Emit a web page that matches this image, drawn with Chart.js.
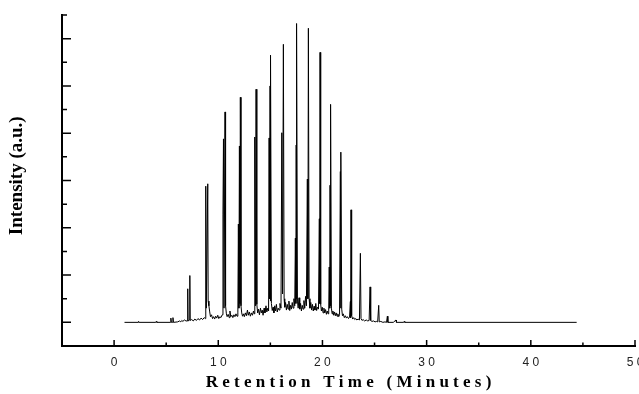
<!DOCTYPE html>
<html>
<head>
<meta charset="utf-8">
<script src="https://cdn.jsdelivr.net/npm/chart.js@4"></script>
<style>
  html, body { margin: 0; padding: 0; background: #fff; overflow: hidden; }
  #wrap { width: 639px; height: 394px; }
</style>
</head>
<body>
<div id="wrap"><canvas id="chromChart"></canvas></div>
<script>
// retention time (min) and intensity (a.u.)
const times = [
  1.0, 2.3, 2.35, 2.4, 4.0, 4.05, 4.1, 5.4, 5.45, 5.5, 5.6, 5.65, 5.7, 6.1, 6.3, 6.4, 6.5, 6.6, 6.75, 6.9,
  7.05, 7.07, 7.1, 7.25, 7.27, 7.3, 7.45, 7.6, 7.75, 7.9, 8.05, 8.2, 8.35, 8.5, 8.65, 8.75,
  8.8, 8.85, 8.99, 9.03, 9.1, 9.18, 9.25, 9.35, 9.45, 9.55, 9.65, 9.75, 9.85, 9.95, 10.05, 10.15, 10.25, 10.38,
  10.45, 10.5, 10.55, 10.65, 10.7, 10.78, 10.85, 10.95, 11.05, 11.12, 11.2, 11.3, 11.4, 11.5, 11.6, 11.7, 11.8, 11.88,
  11.93, 11.98, 12.03, 12.08, 12.12, 12.18, 12.25, 12.33, 12.42, 12.5, 12.6, 12.7, 12.8, 12.88, 12.98, 13.08, 13.18, 13.28, 13.38, 13.45,
  13.49, 13.52, 13.57, 13.63, 13.7, 13.78, 13.86, 13.95, 14.05, 14.13, 14.22, 14.3, 14.4, 14.48, 14.58, 14.66, 14.75, 14.83,
  14.88, 14.93, 14.97, 15.0, 15.03, 15.1, 15.18, 15.26, 15.34, 15.42, 15.5, 15.58, 15.66, 15.75, 15.84, 15.92, 16.02,
  16.1, 16.17, 16.25, 16.32, 16.38, 16.46, 16.54, 16.62, 16.7, 16.78, 16.86, 16.94, 17.02, 17.1, 17.18, 17.26, 17.34,
  17.4, 17.45, 17.48, 17.5, 17.53, 17.6, 17.67, 17.75, 17.82, 17.9, 17.98, 18.06, 18.14, 18.22, 18.3, 18.38, 18.46,
  18.55, 18.6, 18.65, 18.72, 18.8, 18.88, 18.96, 19.04, 19.12, 19.2, 19.28, 19.36, 19.44, 19.52, 19.62,
  19.7, 19.73, 19.77, 19.83, 19.9, 19.98, 20.06, 20.14, 20.22, 20.3, 20.38, 20.46, 20.54, 20.6,
  20.65, 20.7, 20.73, 20.76, 20.8, 20.86, 20.93, 21.0, 21.08, 21.16, 21.24, 21.32, 21.4, 21.48, 21.56, 21.64,
  21.72, 21.75, 21.78, 21.85, 21.92, 22.0, 22.1, 22.2, 22.3, 22.4, 22.5, 22.6,
  22.68, 22.7, 22.74, 22.8, 22.9, 23.0, 23.1, 23.2, 23.3, 23.42, 23.55,
  23.64, 23.7, 23.8, 23.9, 24.05, 24.2, 24.35, 24.48,
  24.57, 24.63, 24.75, 24.9, 25.05, 25.2, 25.3,
  25.4, 25.45, 25.6, 25.8, 26.0, 26.15,
  26.23, 26.28, 26.8,
  27.06, 27.1, 27.8, 27.85, 27.9, 44.4
];
const intensity = [
  0, 0, 0.02, 0, 0, 0.02, 0, 0, 0.09, 0, 0, 0.1, 0, 0.01, 0.03, 0.01, 0.04, 0.02, 0.05, 0.03,
  0.03, 0.71, 0.03, 0.05, 0.99, 0.04, 0.06, 0.03, 0.07, 0.04, 0.08, 0.05, 0.09, 0.06, 0.1, 0.08,
  2.88, 0.3, 2.93, 0.45, 0.35, 0.22, 0.12, 0.16, 0.08, 0.12, 0.07, 0.13, 0.09, 0.15, 0.08, 0.12, 0.1, 0.16,
  2.29, 3.88, 0.3, 4.45, 0.35, 0.18, 0.12, 0.17, 0.1, 0.24, 0.12, 0.15, 0.1, 0.16, 0.12, 0.18, 0.13, 0.2,
  2.08, 0.3, 3.73, 0.4, 4.76, 0.35, 0.2, 0.13, 0.18, 0.12, 0.2, 0.14, 0.26, 0.15, 0.22, 0.13, 0.2, 0.15, 0.24, 0.18,
  2.5, 3.92, 0.35, 4.93, 0.38, 0.2, 0.28, 0.16, 0.3, 0.2, 0.26, 0.15, 0.3, 0.2, 0.35, 0.22, 0.3, 0.24,
  3.9, 0.5, 5.0, 0.45, 5.65, 0.4, 0.25, 0.32, 0.2, 0.35, 0.24, 0.38, 0.22, 0.3, 0.26, 0.4, 0.3,
  4.01, 0.6, 5.88, 0.5, 0.32, 0.42, 0.26, 0.38, 0.28, 0.45, 0.25, 0.36, 0.28, 0.42, 0.3, 0.5, 0.35,
  1.78, 0.4, 3.75, 0.5, 6.32, 0.45, 0.3, 0.52, 0.28, 0.4, 0.24, 0.36, 0.28, 0.46, 0.3, 0.55, 0.35,
  3.03, 0.5, 6.22, 0.5, 0.3, 0.42, 0.26, 0.38, 0.24, 0.34, 0.26, 0.4, 0.25, 0.32, 0.28,
  2.19, 0.4, 5.71, 0.38, 0.24, 0.32, 0.2, 0.3, 0.2, 0.27, 0.17, 0.24, 0.18, 0.26,
  1.17, 0.3, 2.9, 0.35, 4.61, 0.3, 0.18, 0.24, 0.15, 0.22, 0.14, 0.2, 0.13, 0.18, 0.12, 0.16,
  3.19, 0.3, 3.6, 0.28, 0.14, 0.18, 0.1, 0.14, 0.09, 0.12, 0.08, 0.11,
  0.44, 0.1, 2.38, 0.14, 0.07, 0.1, 0.06, 0.08, 0.05, 0.07, 0.05,
  1.46, 0.08, 0.04, 0.06, 0.03, 0.05, 0.03, 0.04,
  0.75, 0.04, 0.02, 0.03, 0.01, 0.02, 0.01,
  0.36, 0.01, 0.02, 0, 0.01, 0,
  0.13, 0, 0,
  0.05, 0, 0, 0.02, 0, 0
];
const xTickLabels = [0, 10, 20, 30, 40, 50];
const xMinorTicks = [5, 15, 25, 35, 45];
const yMajorTicks = [0, 1, 2, 3, 4, 5, 6];
const yMinorTicks = [-0.5, 0.5, 1.5, 2.5, 3.5, 4.5, 5.5, 6.5];

// ticks in the original point inwards, so draw them by hand on the scales
const inwardTicks = {
  id: 'inwardTicks',
  afterDraw(chart) {
    const { ctx, scales: { x, y } } = chart;
    const base = y.bottom, left = x.left;
    ctx.save();
    ctx.strokeStyle = '#000';
    ctx.lineWidth = 1.5;
    ctx.beginPath();
    xTickLabels.forEach(v => { const p = x.getPixelForValue(v); ctx.moveTo(p, base); ctx.lineTo(p, base - 6); });
    xMinorTicks.forEach(v => { const p = x.getPixelForValue(v); ctx.moveTo(p, base); ctx.lineTo(p, base - 3.5); });
    yMajorTicks.forEach(v => { const p = y.getPixelForValue(v); ctx.moveTo(left, p); ctx.lineTo(left + 9, p); });
    yMinorTicks.forEach(v => { const p = y.getPixelForValue(v); ctx.moveTo(left, p); ctx.lineTo(left + 5, p); });
    ctx.stroke();
    ctx.restore();
  }
};

const ctx = document.getElementById('chromChart');
new Chart(ctx, {
  type: 'line',
  data: {
    datasets: [{
      data: times.map((t, i) => ({ x: t, y: intensity[i] })),
      borderColor: '#000',
      borderWidth: 1,
      pointRadius: 0,
      tension: 0,
      fill: false
    }]
  },
  options: {
    responsive: true,
    maintainAspectRatio: false,
    animation: false,
    layout: { padding: { top: 15, right: 4, left: 0, bottom: 0 } },
    plugins: {
      legend: { display: false },
      tooltip: { enabled: false }
    },
    scales: {
      x: {
        type: 'linear',
        min: -5,
        max: 50,
        afterBuildTicks: (scale) => { scale.ticks = xTickLabels.map(v => ({ value: v })); },
        afterFit: (scale) => { scale.height = 48; scale.paddingRight = 0; scale.paddingLeft = 0; },
        grid: { display: false },
        border: { display: true, color: '#000', width: 2 },
        ticks: {
          color: '#222',
          padding: 1,
          maxRotation: 0,
          autoSkip: false,
          font: { family: 'Liberation Sans', size: 12 },
          callback: (v) => String(v).split('').join(' ')
        },
        title: {
          display: true,
          text: 'R e t e n t i o n   T i m e   ( M i n u t e s )',
          color: '#000',
          padding: { top: 0, bottom: 1 },
          font: { family: 'Liberation Serif', size: 17, weight: 'bold' }
        }
      },
      y: {
        type: 'linear',
        min: -0.5,
        max: 6.5,
        afterFit: (scale) => { scale.width = 62; },
        grid: { display: false },
        border: { display: true, color: '#000', width: 2 },
        ticks: { display: false },
        title: {
          display: true,
          text: '  Intensity (a.u.)',
          color: '#000',
          padding: { top: 6, bottom: 0 },
          font: { family: 'Liberation Serif', size: 19, weight: 'bold' }
        }
      }
    }
  },
  plugins: [inwardTicks]
});
</script>
</body>
</html>
